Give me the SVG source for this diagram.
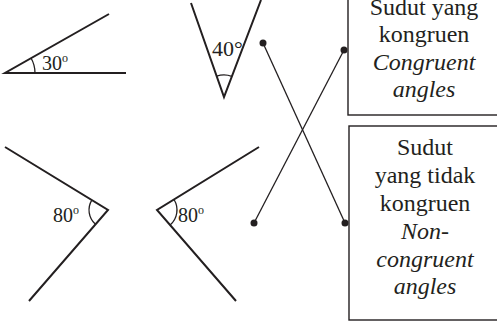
<svg xmlns="http://www.w3.org/2000/svg" width="497" height="322" viewBox="0 0 497 322">
<style>
.ray{stroke:#231f20;stroke-width:2;fill:none;stroke-linecap:butt}
.arc{stroke:#231f20;stroke-width:1.3;fill:none}
.lbl{font-size:20px;fill:#231f20}
.box{stroke:#231f20;stroke-width:1.4;fill:#fff}
.bt{font-size:24px;fill:#231f20;text-anchor:middle}
.it{font-style:italic}
.con{stroke:#231f20;stroke-width:1.3;fill:none}
.dot{fill:#231f20}
</style>
<rect width="497" height="322" fill="#fff"/>
<g id="angle30">
<path class="ray" d="M126 73 L5 73 L109 14"/>
<path class="arc" d="M35 73 A30 30 0 0 0 31 58"/>
<text class="lbl" font-family="Liberation Serif, DejaVu Serif, serif" x="42" y="70">30<tspan font-size="12" dy="-8">o</tspan></text>
</g>
<g id="angle40">
<path class="ray" d="M191 3 L224 97 L261 0"/>
<path class="arc" d="M216.7 76.2 A22 22 0 0 1 231.8 76.4"/>
<text class="lbl" font-family="Liberation Serif, DejaVu Serif, serif" x="212" y="56" style="font-size:22px">40°</text>
</g>
<g id="angle80a">
<path class="ray" d="M5 147 L108 210 L29 301"/>
<path class="arc" d="M91.8 200.1 A19 19 0 0 0 95.5 224.3"/>
<text class="lbl" font-family="Liberation Serif, DejaVu Serif, serif" x="53" y="222">80<tspan font-size="12" dy="-8">o</tspan></text>
</g>
<g id="angle80b">
<path class="ray" d="M259 147 L157 210 L236 301"/>
<path class="arc" d="M174 199.5 A20 20 0 0 1 170.1 225.1"/>
<text class="lbl" font-family="Liberation Serif, DejaVu Serif, serif" x="178" y="222">80<tspan font-size="12" dy="-8">o</tspan></text>
</g>
<g id="box-congruent" font-family="Liberation Serif, DejaVu Serif, serif">
<rect class="box" x="348" y="-5" width="160" height="120"/>
<text class="bt" x="424" y="15">Sudut yang</text>
<text class="bt" x="424" y="42">kongruen</text>
<text class="bt it" x="424" y="70">Congruent</text>
<text class="bt it" x="424" y="97">angles</text>
</g>
<g id="box-noncongruent" font-family="Liberation Serif, DejaVu Serif, serif">
<rect class="box" x="349" y="126" width="160" height="194"/>
<text class="bt" x="425" y="155">Sudut</text>
<text class="bt" x="425" y="183">yang tidak</text>
<text class="bt" x="425" y="211">kongruen</text>
<text class="bt it" x="425" y="239">Non-</text>
<text class="bt it" x="425" y="267">congruent</text>
<text class="bt it" x="425" y="294">angles</text>
</g>
<g id="connectors">
<line class="con" x1="263" y1="43" x2="345" y2="223"/>
<line class="con" x1="344" y1="50" x2="254" y2="223"/>
<circle class="dot" cx="263" cy="43" r="3.5"/>
<circle class="dot" cx="344" cy="50" r="3.5"/>
<circle class="dot" cx="254" cy="223" r="3.5"/>
<circle class="dot" cx="345" cy="223" r="3.5"/>
</g>
</svg>
